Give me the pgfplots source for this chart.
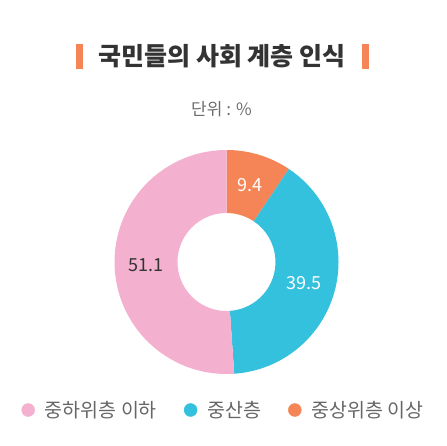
\documentclass[border=0pt]{standalone}
\usepackage{fontspec}
\setmainfont{Noto Sans CJK KR}
\usepackage{pgfplots}
\pgfplotsset{compat=1.18}
\usepackage{pgfplotstable}

\definecolor{pinkc}{HTML}{F4B0CF}
\definecolor{cyanc}{HTML}{33C1DE}
\definecolor{orangec}{HTML}{F58557}
\definecolor{titlec}{HTML}{333333}
\definecolor{subc}{HTML}{6E6E6E}
\definecolor{legc}{HTML}{666666}

% share of respondents, %, clockwise from 12 o'clock
\pgfplotstableread{
group value
upper 9.4
middle 39.5
lower 51.1
}\shares

\begin{document}
\begin{tikzpicture}
\pgfplotstablegetelem{0}{value}\of\shares \let\va\pgfplotsretval
\pgfplotstablegetelem{1}{value}\of\shares \let\vb\pgfplotsretval
\pgfplotstablegetelem{2}{value}\of\shares \let\vc\pgfplotsretval
\pgfmathsetmacro\aA{90}
\pgfmathsetmacro\aB{\aA-3.6*\va}
\pgfmathsetmacro\aC{\aB-3.6*\vb}
\pgfmathsetmacro\aD{\aC-3.6*\vc}
\pgfmathsetmacro\mA{(\aA+\aB)/2}
\pgfmathsetmacro\mB{(\aB+\aC)/2}
\pgfmathsetmacro\mC{(\aC+\aD)/2}
\def\cx{226.5}\def\cy{184}\def\R{112}\def\r{49}\def\rm{80.5}
\begin{axis}[
    x=1pt, y=1pt,
    xmin=0, xmax=447, ymin=0, ymax=446,
    hide axis, clip=false,
    legend style={at={(axis cs:223.5,36)}, anchor=center, draw=none, fill=none,
        font=\fontsize{19.5}{19.5}\selectfont, text=legc,
        /tikz/every even column/.append style={column sep=25pt}},
    legend columns=3,
    legend image code/.code={\fill (0pt,0pt) circle (6.5pt); \path (14.5pt,0pt);},
]
\path (axis cs:0,0) rectangle (axis cs:447,446);

% donut
\fill[orangec] (axis cs:{\cx+\R*cos(\aA)},{\cy+\R*sin(\aA)}) arc[start angle=\aA, end angle=\aB, radius=\R pt]
    -- (axis cs:{\cx+\r*cos(\aB)},{\cy+\r*sin(\aB)}) arc[start angle=\aB, end angle=\aA, radius=\r pt] -- cycle;
\fill[cyanc] (axis cs:{\cx+\R*cos(\aB)},{\cy+\R*sin(\aB)}) arc[start angle=\aB, end angle=\aC, radius=\R pt]
    -- (axis cs:{\cx+\r*cos(\aC)},{\cy+\r*sin(\aC)}) arc[start angle=\aC, end angle=\aB, radius=\r pt] -- cycle;
\fill[pinkc] (axis cs:{\cx+\R*cos(\aC)},{\cy+\R*sin(\aC)}) arc[start angle=\aC, end angle=\aD, radius=\R pt]
    -- (axis cs:{\cx+\r*cos(\aD)},{\cy+\r*sin(\aD)}) arc[start angle=\aD, end angle=\aC, radius=\r pt] -- cycle;

\node[white, font=\fontsize{18}{18}\selectfont] at (axis cs:{\cx+\rm*cos(\mA)},{\cy+\rm*sin(\mA)}) {\va};
\node[white, font=\fontsize{18}{18}\selectfont] at (axis cs:{\cx+\rm*cos(\mB)},{\cy+\rm*sin(\mB)}) {\vb};
\node[titlec, font=\fontsize{18}{18}\selectfont] at (axis cs:{\cx+\rm*cos(\mC)},{\cy+\rm*sin(\mC)}) {\vc};

% title
\fill[orangec] (axis cs:76,377) rectangle (axis cs:83,402);
\fill[orangec] (axis cs:362,377) rectangle (axis cs:369,402);
\node[titlec, font=\fontsize{25}{25}\selectfont\bfseries] at (axis cs:222,389.5) {국민들의 사회 계층 인식};
\node[subc, font=\fontsize{17}{17}\selectfont] at (axis cs:221.5,337) {단위 : \%};

\addlegendimage{pinkc}
\addlegendentry{중하위층 이하}
\addlegendimage{cyanc}
\addlegendentry{중산층}
\addlegendimage{orangec}
\addlegendentry{중상위층 이상}
\end{axis}
\end{tikzpicture}
\end{document}
